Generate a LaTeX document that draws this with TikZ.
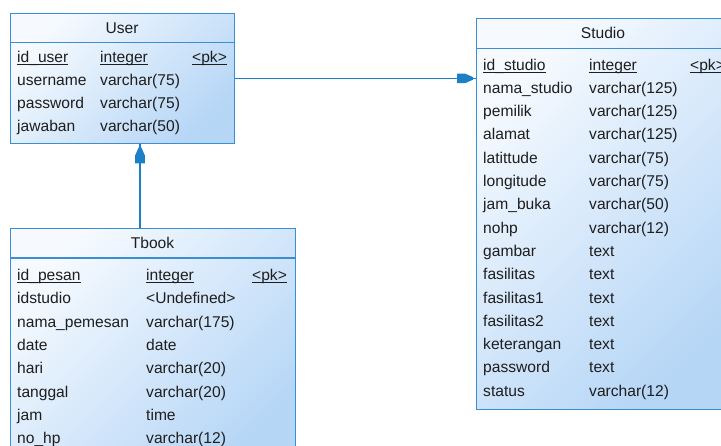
\documentclass[tikz,border=0pt]{standalone}
\usepackage{fontspec}
\setmainfont{Liberation Sans}
\usetikzlibrary{calc}

\definecolor{boxline}{HTML}{3A8ED2}
\definecolor{wirecol}{HTML}{1C80C6}
\definecolor{fillA}{HTML}{F6FAFF}
\definecolor{fillB}{HTML}{B6D6F6}
\definecolor{ink}{HTML}{1E1E1E}

% key column: text with a Windows-style underline
\newcommand\keyul[1]{\setbox0\hbox{#1}\rlap{\color{ink}\rule[-2.6pt]{\wd0}{1.1pt}}\box0}

\tikzset{
  entity/.style={draw=boxline, line width=1.3pt, rectangle, inner sep=0pt,
    anchor=north west, top color=fillA, bottom color=fillB, shading angle=45},
  divider/.style={draw=boxline, line width=1.3pt},
  field/.style={anchor=base west, inner sep=0pt, text=ink},
  title/.style={anchor=base, inner sep=0pt, text=ink},
  wire/.style={draw=wirecol, line width=1.4pt},
  fkhead/.pic={\fill[wirecol] (3,1.3) -- (11,4.8) -- (19,4.8) -- (19,-4.8)
    -- (11,-4.8) -- (3,-1.3) -- cycle;}
}

\begin{document}
\begin{tikzpicture}[x=1pt, y=-1pt, font=\fontsize{15.6}{18}\selectfont]
\useasboundingbox (0,0) rectangle (721,445);
\clip (0,0) rectangle (721,445);

% ---------- User ----------
\node[entity, minimum width=224, minimum height=130.5] (user) at (10,12.5) {};
\draw[divider] ($(user.north west)+(0,30)$) -- ($(user.north east)+(0,30)$);
\node[title] (user-t) at (122,33) {User};
\node[field] (user-k1) at (17,62) {\keyul{id\_user}};
\node[field] (user-k2) at (100,62) {\keyul{integer}};
\node[field] (user-k3) at (192,62) {\keyul{<pk>}};
\foreach \a/\b [count=\i] in {username/varchar(75), password/varchar(75),
    jawaban/varchar(50)} {
  \node[field] (user-a\i) at (17,62+23.3*\i) {\a};
  \node[field] (user-b\i) at (100,62+23.3*\i) {\b};
}

% ---------- Studio ----------
\node[entity, minimum width=254, minimum height=390.5] (studio) at (476,18) {};
\draw[divider] ($(studio.north west)+(0,30.5)$) -- ($(studio.north east)+(0,30.5)$);
\node[title] (studio-t) at (603,38) {Studio};
\node[field] (studio-k1) at (483,70) {\keyul{id\_studio}};
\node[field] (studio-k2) at (589,70) {\keyul{integer}};
\node[field] (studio-k3) at (690,70) {\keyul{<pk>}};
\foreach \a/\b [count=\i] in {nama\_studio/varchar(125), pemilik/varchar(125),
    alamat/varchar(125), latittude/varchar(75), longitude/varchar(75),
    jam\_buka/varchar(50), nohp/varchar(12), gambar/text, fasilitas/text,
    fasilitas1/text, fasilitas2/text, keterangan/text, password/text,
    status/varchar(12)} {
  \node[field] (studio-a\i) at (483,70+23.3*\i) {\a};
  \node[field] (studio-b\i) at (589,70+23.3*\i) {\b};
}

% ---------- Tbook ----------
\node[entity, minimum width=285, minimum height=240] (tbook) at (10,227.5) {};
\draw[divider] ($(tbook.north west)+(0,30.5)$) -- ($(tbook.north east)+(0,30.5)$);
\node[title] (tbook-t) at (152.5,248) {Tbook};
\node[field] (tbook-k1) at (17,280.5) {\keyul{id\_pesan}};
\node[field] (tbook-k2) at (146,280.5) {\keyul{integer}};
\node[field] (tbook-k3) at (252,280.5) {\keyul{<pk>}};
\foreach \a/\b [count=\i] in {idstudio/<Undefined>, nama\_pemesan/varchar(175),
    date/date, hari/varchar(20), tanggal/varchar(20), jam/time,
    no\_hp/varchar(12)} {
  \node[field] (tbook-a\i) at (17,280.5+23.3*\i) {\a};
  \node[field] (tbook-b\i) at (146,280.5+23.3*\i) {\b};
}

% ---------- references ----------
\draw[wire] (user.east) -- (user.east -| studio.west);
\pic[rotate=180] at (user.east -| studio.west) {fkhead};

\draw[wire] ($(user.south west)+(130,0)$) coordinate (uc) -- (uc |- tbook.north);
\pic[rotate=-90] at (uc) {fkhead};
\end{tikzpicture}
\end{document}
